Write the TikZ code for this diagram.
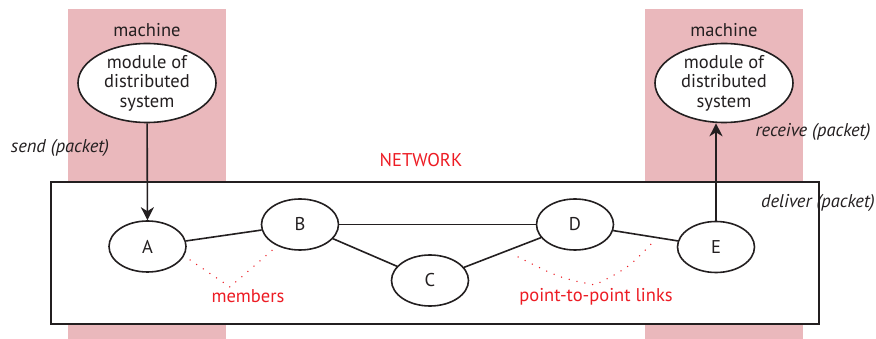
\documentclass[tikz,border=0pt]{standalone}
\usepackage{fontspec}
\setmainfont{PT Sans}
\usetikzlibrary{shapes.geometric,arrows.meta}
\definecolor{pinkbg}{RGB}{234,184,188}
\definecolor{redtxt}{RGB}{237,28,36}
\definecolor{ink}{RGB}{35,31,32}
\begin{document}
\begin{tikzpicture}[x=1pt,y=-1pt,
  member/.style={ellipse,draw=ink,line width=1.6pt,fill=white,minimum width=77pt,minimum height=51pt,inner sep=0pt,font=\fontsize{18.5}{20}\selectfont,text=ink},
  module/.style={ellipse,draw=ink,line width=1.6pt,fill=white,minimum width=138pt,minimum height=72pt,inner sep=0pt,align=center,font=\fontsize{18.5}{19.5}\selectfont,text=ink},
  lbl/.style={font=\fontsize{18.5}{20}\selectfont,text=ink},
  ital/.style={font=\fontsize{18.5}{20}\selectfont\itshape,text=ink},
  redlbl/.style={font=\fontsize{18.5}{20}\selectfont,text=redtxt},
  link/.style={draw=ink,line width=1.6pt},
  arr/.style={draw=ink,line width=1.6pt,-{Stealth[length=13pt,width=13pt,inset=4pt]}},
  dots/.style={draw=redtxt,line width=1.5pt,line cap=round,dash pattern=on 0pt off 8pt}]
\useasboundingbox (0,0) rectangle (876,339);
\fill[pinkbg] (68,9) rectangle (226,339);
\fill[pinkbg] (645,9) rectangle (803,339);
\draw[ink,line width=1.6pt,fill=white] (51,182) rectangle (819,324);
\node[lbl] (m1) at (147,30) {machine};
\node[lbl] (m2) at (724,30) {machine};
\node[module] (lm) at (147,83) {module of\\distributed\\system};
\node[module] (rm) at (724,83) {module of\\distributed\\system};
\node[member] (A) at (147.5,246.5) {A};
\node[member] (B) at (300,224.5) {B};
\node[member] (C) at (430,280.5) {C};
\node[member] (D) at (575,224.5) {D};
\node[member] (E) at (716,247) {E};
\draw[link] (A) -- (B);
\draw[link] (B) -- (D);
\draw[link] (B) -- (C);
\draw[link] (C) -- (D);
\draw[link] (D) -- (E);
\draw[arr] (lm) -- (A);
\draw[arr] (E.north) -- (E.north |- rm.south);
\node[redlbl] (net) at (421,160) {NETWORK};
\node[ital] (send) at (60,148) {send (packet)};
\node[ital] (recv) at (813,132) {receive (packet)};
\node[ital] (deliv) at (818,203) {deliver (packet)};
\node[redlbl] (mem) at (248,296) {members};
\node[redlbl] (p2p) at (596,297) {point-to-point links};
\coordinate (d1) at (190,260);
\coordinate (d2) at (230,287);
\coordinate (d3) at (277,246);
\coordinate (d4) at (518,257);
\coordinate (d5) at (595,285);
\coordinate (d6) at (653,242);
\draw[dots] (d1) -- (d2) -- (d3);
\draw[dots] (d4) .. controls (560,278) .. (d5) .. controls (628,268) .. (d6);
\end{tikzpicture}
\end{document}
